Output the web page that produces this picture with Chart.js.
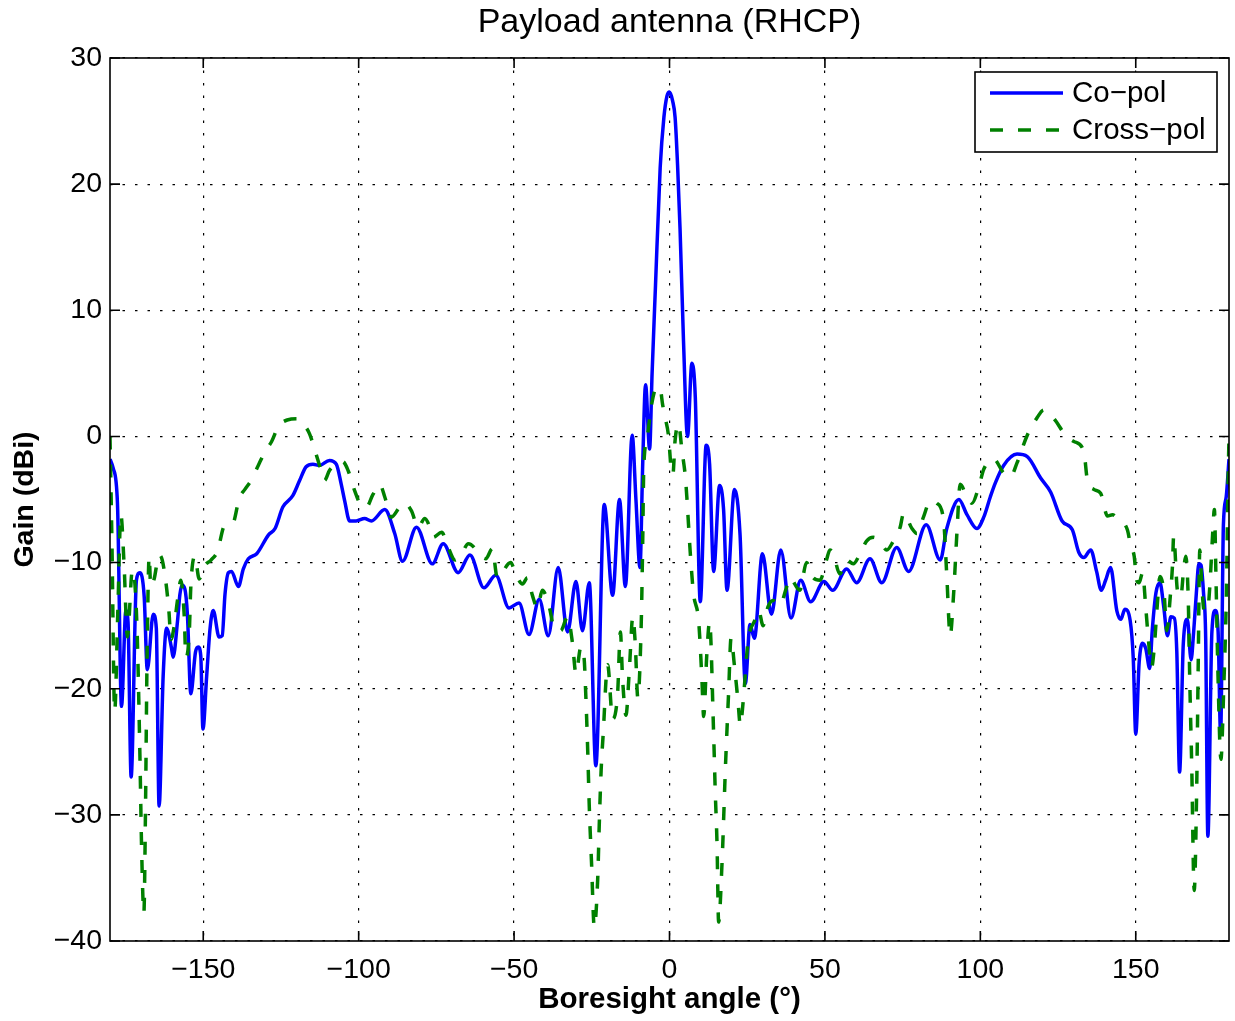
<!DOCTYPE html>
<html><head><meta charset="utf-8">
<script src="https://cdn.jsdelivr.net/npm/chart.js@4"></script>
<style>html,body{margin:0;padding:0;background:#fff;}#wrap{width:1235px;height:1021px;}</style>
</head><body><div id="wrap"><canvas id="c" width="1235" height="1021"></canvas></div>
<script>
const chartTitle = 'Payload antenna (RHCP)';
const xAxisTitle = 'Boresight angle (\u00B0)';
const yAxisTitle = 'Gain (dBi)';
const seriesNames = ['Co\u2212pol', 'Cross\u2212pol'];
const xTicks = [-150, -100, -50, 0, 50, 100, 150];
const yTicks = [-40, -30, -20, -10, 0, 10, 20, 30];

const coX = [-180,-179,-177.6,-176.3,-174.9,-174.2,-173.2,-171.5,-170.4,-169,-168,-166.1,-165.1,-164.2,-162.9,-161.8,-160.2,-159.7,-158.3,-157.5,-156.8,-155.9,-155.1,-154,-152.5,-151.6,-150.8,-150.1,-148.9,-147.8,-146.8,-144.9,-143.9,-143,-141.9,-140.9,-138.7,-137.1,-135.5,-132.8,-129,-126.9,-124.4,-121.2,-119,-116.9,-114.7,-112.6,-109.4,-107.2,-105.6,-104.5,-102.9,-100.8,-98.1,-95.9,-91.6,-88.4,-85.9,-81.4,-76.3,-72.8,-68,-64.2,-59.7,-55.9,-51.6,-48.4,-45.2,-41.9,-39,-35.8,-32.8,-30.1,-28,-25.8,-23.7,-21,-18.3,-16.1,-14.2,-12,-10.8,-9.5,-8.6,-7.7,-6.4,-5.6,-4.5,-3,-1.8,-0.8,0,1,1.8,2.6,3.4,4.5,5.8,7.2,8.3,9.9,11.8,12.9,14.2,16.1,17.4,18.5,20.9,22.7,24.4,25.9,27.3,29.9,32.8,35.8,39.1,42.2,45.4,49.7,52.5,57,60.2,64.5,68.3,73.1,76.9,82.6,87.1,89.2,93.1,95.7,98.9,101.1,103.2,104.8,107.5,111.8,115.1,119.4,122.6,126.3,129.6,131.7,133.3,135.5,137.4,138.9,140.3,141.9,143.9,145.2,146.5,148.2,149.2,150,151.1,152.2,153.2,154.5,155.3,156.5,157.8,159,160.2,161.3,162.4,163.2,164.1,165.3,166.6,167.8,168.6,169.5,170.3,171,171.8,172.5,173.2,174.5,175.6,176.5,177.3,178.2,179.1,180];
const coY = [-1.8,-2.5,-5.3,-21.4,-13.8,-14.7,-27,-11.4,-10.8,-12.7,-18.5,-14.1,-15.2,-29.3,-19,-15.2,-16.8,-17.5,-14.7,-12.5,-11.8,-12.1,-14.1,-20.4,-17.1,-16.7,-17.4,-23.2,-19,-15.2,-13.8,-15.9,-15.8,-12.5,-10.8,-10.7,-11.9,-10.5,-9.7,-9.3,-7.8,-7.3,-5.6,-4.7,-3.5,-2.4,-2.2,-2.3,-1.9,-2.2,-3.8,-5.1,-6.7,-6.7,-6.5,-6.7,-5.8,-7.7,-9.9,-7.2,-10.1,-8.5,-10.8,-9.4,-12,-11,-13.6,-13.2,-15.7,-12.9,-15.8,-10.4,-15.5,-11.5,-15.4,-11.6,-26.1,-5.4,-12.6,-5,-11.9,0.1,-5,-10.4,-2,4.1,-1,5,12,21.3,25.3,27,27.3,26.6,25.3,21.5,16.4,7.6,0,5.8,3.1,-13.1,-0.7,-2.2,-10.7,-3.9,-5.8,-12.2,-4.2,-7.8,-19.6,-14.9,-16,-9.3,-14.1,-9,-14.4,-11.4,-13.1,-11.5,-12.2,-10.5,-11.6,-9.7,-11.6,-8.8,-10.7,-7,-9.8,-7.3,-5,-6.2,-7.3,-6.4,-4.8,-3.7,-2.3,-1.4,-1.6,-3.3,-4.4,-6.7,-7.4,-9.2,-9.6,-9,-10.7,-12.2,-11.4,-10.4,-13.8,-14.5,-13.7,-14.6,-17.6,-23.6,-17.9,-16.4,-16.8,-18.4,-15.4,-12.4,-11.6,-13.5,-15.8,-14.3,-14.4,-17,-26.6,-16.4,-14.5,-17.7,-15.6,-12.4,-10.1,-10.2,-12.4,-16,-31.7,-15.5,-13.8,-15.5,-23.6,-7,-4.8,-1.8];

const crossX = [-180,-179.4,-178.5,-177.5,-176.5,-175.5,-174.4,-172.8,-171.9,-171.2,-170.4,-169.8,-169.1,-168.6,-168.1,-167.4,-166.9,-165.8,-164.2,-163.2,-162,-161,-160.4,-159.4,-158.3,-157.2,-156.1,-155.6,-154.5,-154,-152.7,-151.3,-149.7,-147.5,-145.4,-143.2,-140.5,-138.4,-136.6,-134.4,-132.3,-130.1,-128,-125.8,-123,-119.4,-117.5,-115.8,-113.7,-112.6,-111,-109.4,-107.2,-105.1,-103.4,-101.3,-99.4,-97.5,-95.4,-93.2,-91.6,-89.5,-86.8,-85.2,-83,-80.9,-78.7,-77.1,-76,-73.3,-71.2,-69,-66.9,-64.7,-59.1,-57,-55.4,-51.1,-49.5,-47.3,-45.7,-44.1,-42.5,-40.9,-38.7,-37.1,-35,-32.8,-31.2,-30.1,-28.5,-27.5,-26.9,-26.3,-25.8,-25.1,-24.2,-23.1,-22.6,-22,-21.2,-20.4,-19.9,-18.3,-16.7,-15.8,-15.1,-14,-12.9,-11.8,-11,-10.2,-9.1,-8.6,-8.3,-7.3,-5.7,-4.1,-3,-2.2,-1.4,-0.3,0.5,1.1,1.8,2.9,4,5.1,5.6,6.7,7.7,9.4,10.4,11,12,12.9,14.2,14.7,15.3,15.8,16.9,18,19,19.8,20.9,22,22.8,23.7,25.3,27.4,28.7,30.1,31.7,33.3,35.5,37.6,38.7,41.9,44.1,46.2,48.4,50.5,51.6,52.7,54.8,57,59.1,61.3,63.4,65.6,67.7,69.9,72,74.2,75.3,78,79.6,81.7,83.9,86,88.2,89.2,90.3,91.4,92.5,93.5,95.7,97.3,99.5,101.1,104.3,107.5,109.7,111.8,115.1,118.3,120.4,123.7,127.4,130.1,133.3,134.4,136.5,138.7,140.9,142.5,144.1,147.3,148.4,149.5,150.3,151.1,152.2,153.2,154,155.1,155.9,156.8,157.8,159.1,160,161.1,161.8,162.2,163.4,164.5,165.4,166.1,166.9,167.4,168,168.8,169.6,170.1,170.6,171.2,172,173.1,173.9,174.7,175.3,175.8,176.4,177.4,178.3,179.2,179.6,180];
const crossY = [0,-8,-21.8,-14,-6.2,-10,-15.9,-10.6,-12,-16.1,-25,-33,-37.8,-30,-18,-9.5,-11.9,-11.3,-9.4,-9.8,-11.6,-14,-16.1,-15.1,-13,-11.4,-14.3,-17.5,-15.6,-11.9,-9.5,-11.3,-10.3,-9.8,-9.1,-7.1,-6.9,-4.9,-4.2,-3.4,-2.3,-1.2,-0.4,0.8,1.3,1.4,0.9,0.2,-1.4,-2.3,-3.5,-2.7,-2.2,-2,-2.7,-4.3,-5.4,-5.6,-4.6,-3.8,-4.8,-6.4,-5.6,-5.3,-5.9,-7.2,-6.5,-7.2,-8,-7.6,-8.8,-9.8,-9.3,-8.5,-9.7,-8.9,-11.2,-10,-10.9,-11.7,-11.2,-12.6,-13.6,-12.2,-13.5,-15.2,-15.4,-14.3,-16.4,-18.8,-16.7,-17.5,-20.7,-25,-29.4,-33.7,-38.9,-35.1,-30.8,-26.5,-23,-19.2,-18.1,-22.4,-20.4,-15.5,-19.2,-22.1,-18.4,-14.3,-16.5,-20.7,-14.9,-8,-2.7,-0.3,2.6,3.9,3.8,2.5,1.5,0,-2.5,-3,-0.3,1,-1.1,-3.2,-4.9,-9.3,-12.4,-14.7,-19.1,-22.2,-17.3,-14.7,-23.6,-28,-32.4,-38.5,-33.8,-26.2,-20.4,-16,-18.2,-20.9,-22.9,-21,-16.2,-14.6,-13.8,-15,-13.5,-13,-13.4,-12,-11.2,-12.2,-10,-11.2,-11.4,-9.8,-9,-9.3,-10.9,-9.8,-10.1,-9.3,-8.3,-8,-8.3,-9,-8.3,-7.2,-6.1,-7.3,-7.7,-6.4,-5.1,-5.3,-6.7,-11,-15.8,-12.5,-7.5,-3.8,-4.8,-5.3,-4,-2.6,-1.8,-2.9,-3.2,-2.1,0.1,1.5,2.1,1.4,0.1,-0.4,-1.2,-3.4,-4.2,-4.5,-6.3,-6.2,-6.5,-7.4,-8.7,-9.5,-11.4,-11.6,-10.8,-13.5,-15.9,-18.3,-16.9,-13.8,-11.1,-12.4,-15.4,-12.7,-10.3,-7.9,-12.2,-12.7,-10.6,-9.5,-13,-19.6,-26,-36,-28,-18,-9,-11.6,-13.8,-13.8,-11.6,-7.9,-5.8,-11.1,-18.3,-25.6,-20,-12,-5,0];

const FONT = "'Liberation Sans', Arial, Helvetica, sans-serif";
const fmt = v => (v < 0 ? '\u2212' + Math.abs(v) : String(v));
const toPts = (xs, ys) => xs.map((x, i) => ({x: x, y: ys[i]}));

const frame = {
  id: 'frame',
  afterDraw(chart) {
    const {ctx, chartArea: a, scales} = chart;
    ctx.save();
    // title centred over the plot area
    ctx.fillStyle = '#000';
    ctx.font = '34px ' + FONT;
    ctx.textAlign = 'center';
    ctx.textBaseline = 'middle';
    ctx.fillText(chartTitle, (a.left + a.right) / 2, 23);

    ctx.strokeStyle = '#000';
    ctx.lineWidth = 1.6;
    ctx.strokeRect(a.left, a.top, a.right - a.left, a.bottom - a.top);
    const L = 10;
    ctx.beginPath();
    xTicks.forEach(v => {
      const p = scales.x.getPixelForValue(v);
      ctx.moveTo(p, a.bottom); ctx.lineTo(p, a.bottom - L);
      ctx.moveTo(p, a.top); ctx.lineTo(p, a.top + L);
    });
    yTicks.forEach(v => {
      const p = scales.y.getPixelForValue(v);
      ctx.moveTo(a.left, p); ctx.lineTo(a.left + L, p);
      ctx.moveTo(a.right, p); ctx.lineTo(a.right - L, p);
    });
    ctx.stroke();
    // legend
    const w = 242, h = 80;
    const lx = a.right - 12 - w, ly = a.top + 14;
    ctx.fillStyle = '#fff';
    ctx.fillRect(lx, ly, w, h);
    ctx.lineWidth = 1.6;
    ctx.strokeRect(lx, ly, w, h);
    ctx.font = '29.5px ' + FONT;
    ctx.textBaseline = 'middle';
    ctx.textAlign = 'left';
    chart.data.datasets.forEach((ds, i) => {
      const yy = ly + 21 + i * 37;
      ctx.beginPath();
      ctx.strokeStyle = ds.borderColor;
      ctx.lineWidth = ds.borderWidth;
      ctx.setLineDash(ds.borderDash || []);
      ctx.moveTo(lx + 15, yy); ctx.lineTo(lx + 88, yy);
      ctx.stroke();
      ctx.setLineDash([]);
      ctx.fillStyle = '#000';
      ctx.fillText(ds.label, lx + 97, yy + 1);
    });
    ctx.restore();
  }
};

Chart.defaults.font.family = FONT;
Chart.defaults.color = '#000';

new Chart(document.getElementById('c'), {
  type: 'line',
  data: {
    datasets: [
      {label: seriesNames[0], data: toPts(coX, coY), borderColor: '#0000ff', borderWidth: 3.5,
       pointRadius: 0, fill: false, cubicInterpolationMode: 'monotone', order: 1},
      {label: seriesNames[1], data: toPts(crossX, crossY), borderColor: '#008000', borderWidth: 3.5,
       borderDash: [13, 15], pointRadius: 0, fill: false, cubicInterpolationMode: 'monotone', order: 0}
    ]
  },
  options: {
    responsive: false,
    devicePixelRatio: 1,
    animation: false,
    events: [],
    layout: {padding: {left: 0, right: 6, top: 58, bottom: 0}},
    plugins: {
      legend: {display: false},
      tooltip: {enabled: false},
      title: {display: false}
    },
    scales: {
      x: {
        type: 'linear', min: -180, max: 180,
        afterBuildTicks: s => { s.ticks = xTicks.map(v => ({value: v})); },
        afterFit: s => { s.height = 80; },
        ticks: {callback: fmt, padding: 12, font: {size: 28.5}, color: '#000', autoSkip: false, maxRotation: 0},
        grid: {color: '#000', lineWidth: 1.2, drawTicks: false},
        border: {display: false, dash: [2.5, 10]},
        title: {display: true, text: xAxisTitle, color: '#000', font: {size: 29.5, weight: 'bold', lineHeight: 1.2},
                padding: {top: 0, bottom: 3}}
      },
      y: {
        type: 'linear', min: -40, max: 30,
        afterBuildTicks: s => { s.ticks = yTicks.map(v => ({value: v})); },
        afterFit: s => { s.width = 110; },
        ticks: {callback: fmt, padding: 8, font: {size: 28.5}, color: '#000', autoSkip: false},
        grid: {color: '#000', lineWidth: 1.2, drawTicks: false},
        border: {display: false, dash: [2.5, 10]},
        title: {display: true, text: yAxisTitle, color: '#000', font: {size: 28.5, weight: 'bold', lineHeight: 1.2},
                padding: {top: 8, bottom: 0}}
      }
    }
  },
  plugins: [frame]
});
</script>
</body></html>
